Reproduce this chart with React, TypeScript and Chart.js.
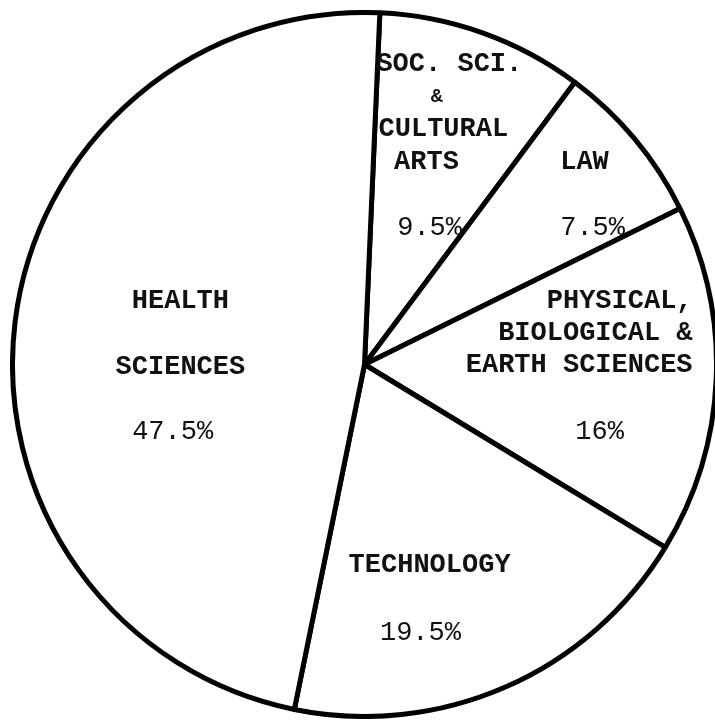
import React, { useEffect, useRef } from "react";
import { Chart, registerables } from "chart.js";

Chart.register(...registerables);

const categories = ["SOC. SCI. & CULTURAL ARTS", "LAW", "PHYSICAL, BIOLOGICAL & EARTH SCIENCES", "TECHNOLOGY", "HEALTH SCIENCES"];
const shares = [9.5, 7.5, 16, 19.5, 47.5];
const percentLabels = ["9.5%", "7.5%", "16%", "19.5%", "47.5%"];
const nameLines = [
  ["SOC. SCI.", "&", "CULTURAL", "ARTS"],
  ["LAW"],
  ["PHYSICAL,", "BIOLOGICAL &", "EARTH SCIENCES"],
  ["TECHNOLOGY"],
  ["HEALTH", "SCIENCES"],
];

// label layout, relative to the pie centre, in units of the radius
type Pos = [number, number];
const nameLayout: Pos[][] = [
  [[0.241, -0.852], [0.205, -0.759], [0.224, -0.668], [0.176, -0.574]],
  [[0.625, -0.574]],
  [[0.932, -0.179], [0.932, -0.088], [0.932, 0.003]],
  [[0.185, 0.571]],
  [[-0.523, -0.179], [-0.523, 0.009]],
];
const nameAlign: CanvasTextAlign[] = ["center", "center", "right", "center", "center"];
const percentLayout: Pos[] = [
  [0.185, -0.389],
  [0.648, -0.389],
  [0.668, 0.19],
  [0.159, 0.761],
  [-0.545, 0.19],
];

const FONT = "'Liberation Mono', 'DejaVu Sans Mono', monospace";

const labelPlugin = {
  id: "pieLabels",
  afterDraw(chart: any) {
    const meta = chart.getDatasetMeta(0);
    const arc = meta.data[0];
    if (!arc) return;
    const cx = arc.x;
    const cy = arc.y;
    const r = arc.outerRadius;
    const ctx = chart.ctx;
    ctx.save();
    ctx.fillStyle = "#111";
    ctx.textBaseline = "middle";
    nameLines.forEach((lines, i) => {
      ctx.textAlign = nameAlign[i];
      lines.forEach((t, j) => {
        const [dx, dy] = nameLayout[i][j];
        ctx.font = t === "&" ? `bold 20px ${FONT}` : `bold 27px ${FONT}`;
        ctx.fillText(t, cx + dx * r, cy + dy * r);
      });
      const [px, py] = percentLayout[i];
      ctx.textAlign = "center";
      ctx.font = `27px ${FONT}`;
      ctx.fillText(percentLabels[i], cx + px * r, cy + py * r);
    });
    ctx.restore();
  },
};

export default function App() {
  const ref = useRef<HTMLCanvasElement>(null);
  useEffect(() => {
    if (!ref.current) return;
    const chart = new Chart(ref.current, {
      type: "pie",
      data: {
        labels: categories,
        datasets: [
          {
            data: shares,
            backgroundColor: "#ffffff",
            borderColor: "#000000",
            borderWidth: 5,
            borderAlign: "center",
          },
        ],
      },
      options: {
        responsive: false,
        animation: false,
        rotation: 2.5,
        layout: { padding: 0 },
        plugins: { legend: { display: false }, tooltip: { enabled: false } },
      },
      plugins: [labelPlugin],
    });
    return () => chart.destroy();
  }, []);
  return (
    <div style={{ position: "fixed", left: 0, top: 0, width: 715, height: 725, overflow: "hidden", background: "#fff" }}>
      <canvas ref={ref} width={709} height={709} style={{ position: "absolute", left: 10, top: 10 }} />
    </div>
  );
}
